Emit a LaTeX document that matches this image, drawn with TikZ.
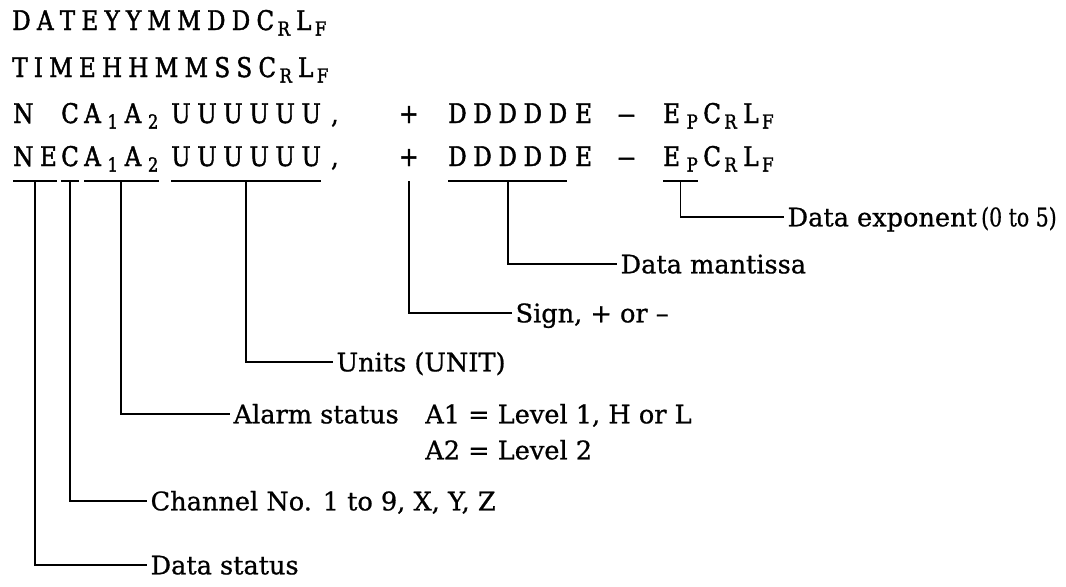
\documentclass[tikz,border=0pt]{standalone}
\usepackage{fontspec}
\usepackage{graphicx}
\usetikzlibrary{calc}
\newfontfamily\cfont[FakeStretch=0.85,FakeBold=1.6]{DejaVu Serif}
\newfontfamily\lfont[FakeBold=0.8]{DejaVu Serif}
\newcommand\codefont{\cfont\fontsize{20.3pt}{22pt}\selectfont}
\newcommand\lblfont{\lfont\fontsize{19.2pt}{23pt}\selectfont}
\newcommand\ga{\hspace{4.7pt}}
\newcommand\gb{\hspace{5pt}}
\newcommand\sbx[1]{\hspace{2.6pt}\raisebox{-4.2pt}{\fontsize{14.5pt}{14.5pt}\selectfont #1}}
\newcommand\sbw[1]{\hspace{5pt}\raisebox{-4.2pt}{\fontsize{14.5pt}{14.5pt}\selectfont #1}}
\newcommand\mdash{\scalebox{1.6}[1]{–}}
\tikzset{
  code/.style={inner sep=0pt, anchor=base west, font=\codefont},
  lbl/.style={anchor=west, inner xsep=2.5pt, inner ysep=0pt, text height=14pt, text depth=0pt, font=\lblfont},
  lblb/.style={anchor=base west, inner sep=0pt, font=\lblfont},
  ln/.style={line width=1.4pt},
}
\begin{document}
\begin{tikzpicture}[x=0.75pt, y=-0.75pt]
\useasboundingbox (0,0) rectangle (1066,586);
% rows 1 and 2
\node[code] (r1) at (12,30) {D\ga A\ga T\ga E\ga Y\ga Y\ga M\ga M\ga D\ga D\ga C\sbx{R}\ga L\sbx{F}};
\node[code] (r2) at (12,77) {T\ga I\ga M\ga E\ga H\ga H\ga M\ga M\ga S\ga S\ga C\sbx{R}\ga L\sbx{F}};
% row 3
\node[code] (r3N) at (13,123) {N};
\node[code] (r3C) at (61,123) {C};
\node[code] (r3A) at (84,123) {A\sbw{1}\gb A\sbw{2}};
\node[code] (r3U) at (171,123) {U\gb U\gb U\gb U\gb U\gb U};
\node[code] (r3c) at (331,123) {,};
\node[code] (r3p) at (399,123) {+};
\node[code] (r3D) at (448,123) {D\gb D\gb D\gb D\gb D};
\node[code] (r3E) at (575,123) {E};
\node[code] (r3m) at (617,123) {\mdash};
\node[code] (r3P) at (663,123) {E\sbw{P}};
\node[code] (r3L) at ($(r3P.base east)+(5,0)$) {C\sbx{R}\gb L\sbx{F}};
% row 4
\node[code] (r4NE) at (13,166) {N\gb E};
\node[code] (r4C) at (61,166) {C};
\node[code] (r4A) at (84,166) {A\sbw{1}\gb A\sbw{2}};
\node[code] (r4U) at (171,166) {U\gb U\gb U\gb U\gb U\gb U};
\node[code] (r4c) at (331,166) {,};
\node[code] (r4p) at (399,166) {+};
\node[code] (r4D) at (448,166) {D\gb D\gb D\gb D\gb D};
\node[code] (r4E) at (575,166) {E};
\node[code] (r4m) at (617,166) {\mdash};
\node[code] (r4P) at (663,166) {E\sbw{P}};
\node[code] (r4L) at ($(r4P.base east)+(5,0)$) {C\sbx{R}\gb L\sbx{F}};
\coordinate (ul) at (0,181);
% labels
\node[lbl] (lexp) at (784,217) {Data exponent\,\scalebox{0.8}[1]{(0 to 5)}};
\node[lbl] (lman) at (617,264) {Data mantissa};
\node[lbl] (lsign) at (512,313) {Sign, + or –};
\node[lbl] (lunit) at (333,362) {Units (UNIT)};
\node[lbl] (lalarm) at (230,414) {Alarm status};
\coordinate (xa1) at (425,0);
\node[lblb] (la1) at (lalarm.base -| xa1) {A1 = Level 1, H or L};
\node[lblb] (la2) at ($(la1.base west)+(0,36)$) {A2 = Level 2};
\node[lbl] (lchan) at (147,501) {Channel No. 1 to 9, X, Y, Z};
\node[lbl] (lstat) at (147,565) {Data status};
% underlines
\foreach \n in {r4NE,r4C,r4A,r4U,r4D,r4P}
  \draw[ln] (\n.west |- ul) -- (\n.east |- ul);
% connectors
\draw[ln] (r4P.base |- ul) |- (lexp.west);
\draw[ln] (r4D.base |- ul) |- (lman.west);
\draw[ln] (r4p.base |- ul) |- (lsign.west);
\draw[ln] (r4U.base |- ul) |- (lunit.west);
\draw[ln] (r4A.base |- ul) |- (lalarm.west);
\draw[ln] (r4C.base |- ul) |- (lchan.west);
\draw[ln] (r4NE.base |- ul) |- (lstat.west);
\end{tikzpicture}
\end{document}
